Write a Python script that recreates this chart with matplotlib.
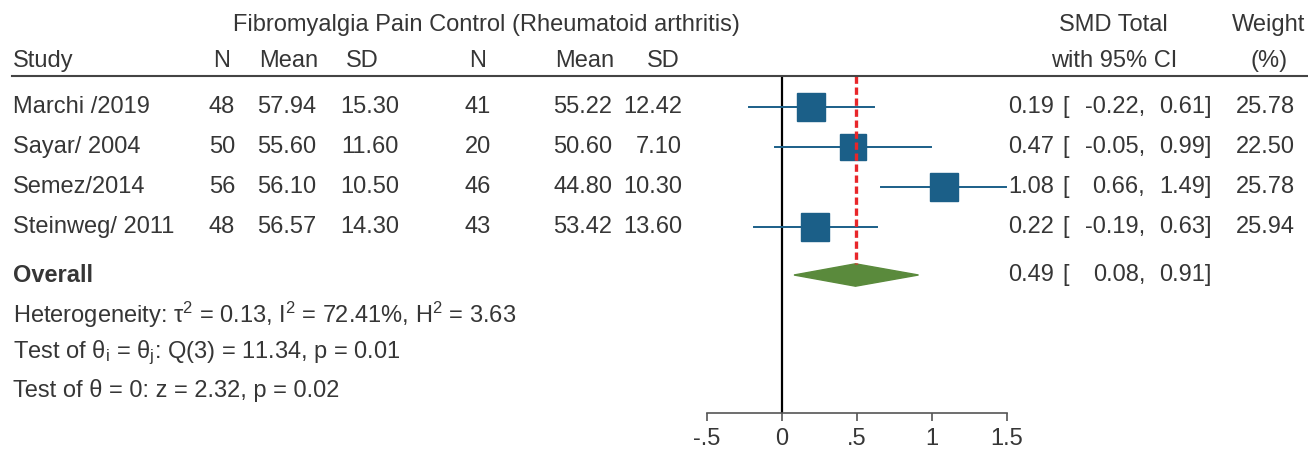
import matplotlib
matplotlib.use("Agg")
import matplotlib.pyplot as plt
from matplotlib import transforms
from matplotlib.lines import Line2D

plt.rcParams["font.family"] = ["Liberation Sans", "DejaVu Sans"]
plt.rcParams["mathtext.fontset"] = "custom"
plt.rcParams["mathtext.rm"] = "Liberation Sans"
plt.rcParams["mathtext.it"] = "Liberation Sans:italic"

# study data
studies = ["Marchi /2019", "Sayar/ 2004", "Semez/2014", "Steinweg/ 2011"]
fm_n = [48, 50, 56, 48]
fm_mean = [57.94, 55.60, 56.10, 56.57]
fm_sd = [15.30, 11.60, 10.50, 14.30]
ct_n = [41, 20, 46, 43]
ct_mean = [55.22, 50.60, 44.80, 53.42]
ct_sd = [12.42, 7.10, 10.30, 13.60]
smd = [0.19, 0.47, 1.08, 0.22]
ci_lo = [-0.22, -0.05, 0.66, -0.19]
ci_hi = [0.61, 0.99, 1.49, 0.63]
weight = [25.78, 22.50, 25.78, 25.94]
overall = [0.49, 0.08, 0.91]  # est, lo, hi

stats_lines = [
    r"Heterogeneity: τ$^\mathrm{2}$ = 0.13, I$^\mathrm{2}$ = 72.41%, H$^\mathrm{2}$ = 3.63",
    r"Test of θ$_\mathrm{i}$ = θ$_\mathrm{j}$: Q(3) = 11.34, p = 0.01",
    "Test of θ = 0: z = 2.32, p = 0.02",
]
xticks = [-0.5, 0, 0.5, 1, 1.5]
xtick_labels = ["-.5", "0", ".5", "1", "1.5"]

W, H = 1308, 449
TXT = "#363636"
BLUE = "#1b5f88"
FS = 17

fig = plt.figure(figsize=(W / 100, H / 100), dpi=100)
ax = fig.add_axes([707 / W, 36 / H, 300 / W, 337 / H])
ax.set_xlim(-0.5, 1.5)
ax.set_ylim(7.65, -0.775)

# row layout (in row units)
row_y = list(range(len(studies)))
overall_y = 4.2
stats_y = [5.2, 6.15, 7.08]
head_y = [-2.05, -1.15]

# forest marks
ax.axvline(0, color="black", lw=1.6, zorder=1)
for i in range(len(studies)):
    ax.plot([ci_lo[i], ci_hi[i]], [row_y[i], row_y[i]], color=BLUE, lw=1.4,
            clip_on=False, zorder=2)
    ms = 20 * (weight[i] / max(weight)) ** 0.5
    ax.plot(smd[i], row_y[i], marker="s", ms=ms, color=BLUE, mec=BLUE,
            clip_on=False, zorder=3)

dh = 0.28
ax.fill([overall[1], overall[0], overall[2], overall[0]],
        [overall_y, overall_y - dh, overall_y, overall_y + dh],
        color="#5a8a3c", zorder=3, clip_on=False)
ax.plot([overall[0], overall[0]], [-0.775, overall_y - dh], color="#e8262a",
        lw=2.4, ls=(0, (2.2, 1.1)), zorder=4, clip_on=False)

for s in ["top", "right", "left"]:
    ax.spines[s].set_visible(False)
ax.spines["bottom"].set_bounds(-0.5, 1.5)
ax.spines["bottom"].set_color("#555555")
ax.spines["bottom"].set_linewidth(1.2)
ax.set_yticks([])
ax.set_xticks(xticks)
ax.set_xticklabels(xtick_labels)
ax.tick_params(axis="x", direction="out", length=6, width=1.2, color="#555555",
               labelsize=FS, labelcolor=TXT, pad=5)
ax.patch.set_alpha(0)

# text columns: x in figure pixels, y in row units
tr = transforms.blended_transform_factory(fig.transFigure, ax.transData)


def put(xpx, y, s, ha="left", **kw):
    fig.text(xpx / W, y, s, transform=tr, ha=ha, va="center", fontsize=FS,
             color=TXT, **kw)


put(486, head_y[0], "Fibromyalgia Pain Control (Rheumatoid arthritis)", ha="center")
put(1113, head_y[0], "SMD Total", ha="center")
put(1269, head_y[0], "Weight", ha="center")
put(13, head_y[1], "Study")
put(222, head_y[1], "N", ha="center")
put(289, head_y[1], "Mean", ha="center")
put(362, head_y[1], "SD", ha="center")
put(478, head_y[1], "N", ha="center")
put(585, head_y[1], "Mean", ha="center")
put(663, head_y[1], "SD", ha="center")
put(1114, head_y[1], "with 95% CI", ha="center")
put(1269, head_y[1], "(%)", ha="center")

fig.add_artist(Line2D([12 / W, 1.0], [(H - 76) / H, (H - 76) / H],
                      color="#444444", lw=1.5))

for i, name in enumerate(studies):
    y = row_y[i]
    put(13, y, name)
    put(222, y, f"{fm_n[i]}", ha="center")
    put(316, y, f"{fm_mean[i]:.2f}", ha="right")
    put(399, y, f"{fm_sd[i]:.2f}", ha="right")
    put(478, y, f"{ct_n[i]}", ha="center")
    put(612, y, f"{ct_mean[i]:.2f}", ha="right")
    put(682, y, f"{ct_sd[i]:.2f}", ha="right")
    put(1054, y, f"{smd[i]:.2f}", ha="right")
    put(1062, y, "[")
    put(1145, y, f"{ci_lo[i]:.2f},", ha="right")
    put(1212, y, f"{ci_hi[i]:.2f}]", ha="right")
    put(1295, y, f"{weight[i]:.2f}", ha="right")

put(13, overall_y, "Overall", fontweight="bold")
put(1054, overall_y, f"{overall[0]:.2f}", ha="right")
put(1062, overall_y, "[")
put(1145, overall_y, f"{overall[1]:.2f},", ha="right")
put(1212, overall_y, f"{overall[2]:.2f}]", ha="right")

for y, s in zip(stats_y, stats_lines):
    put(13, y, s)

fig.savefig("out.png", dpi=100)
